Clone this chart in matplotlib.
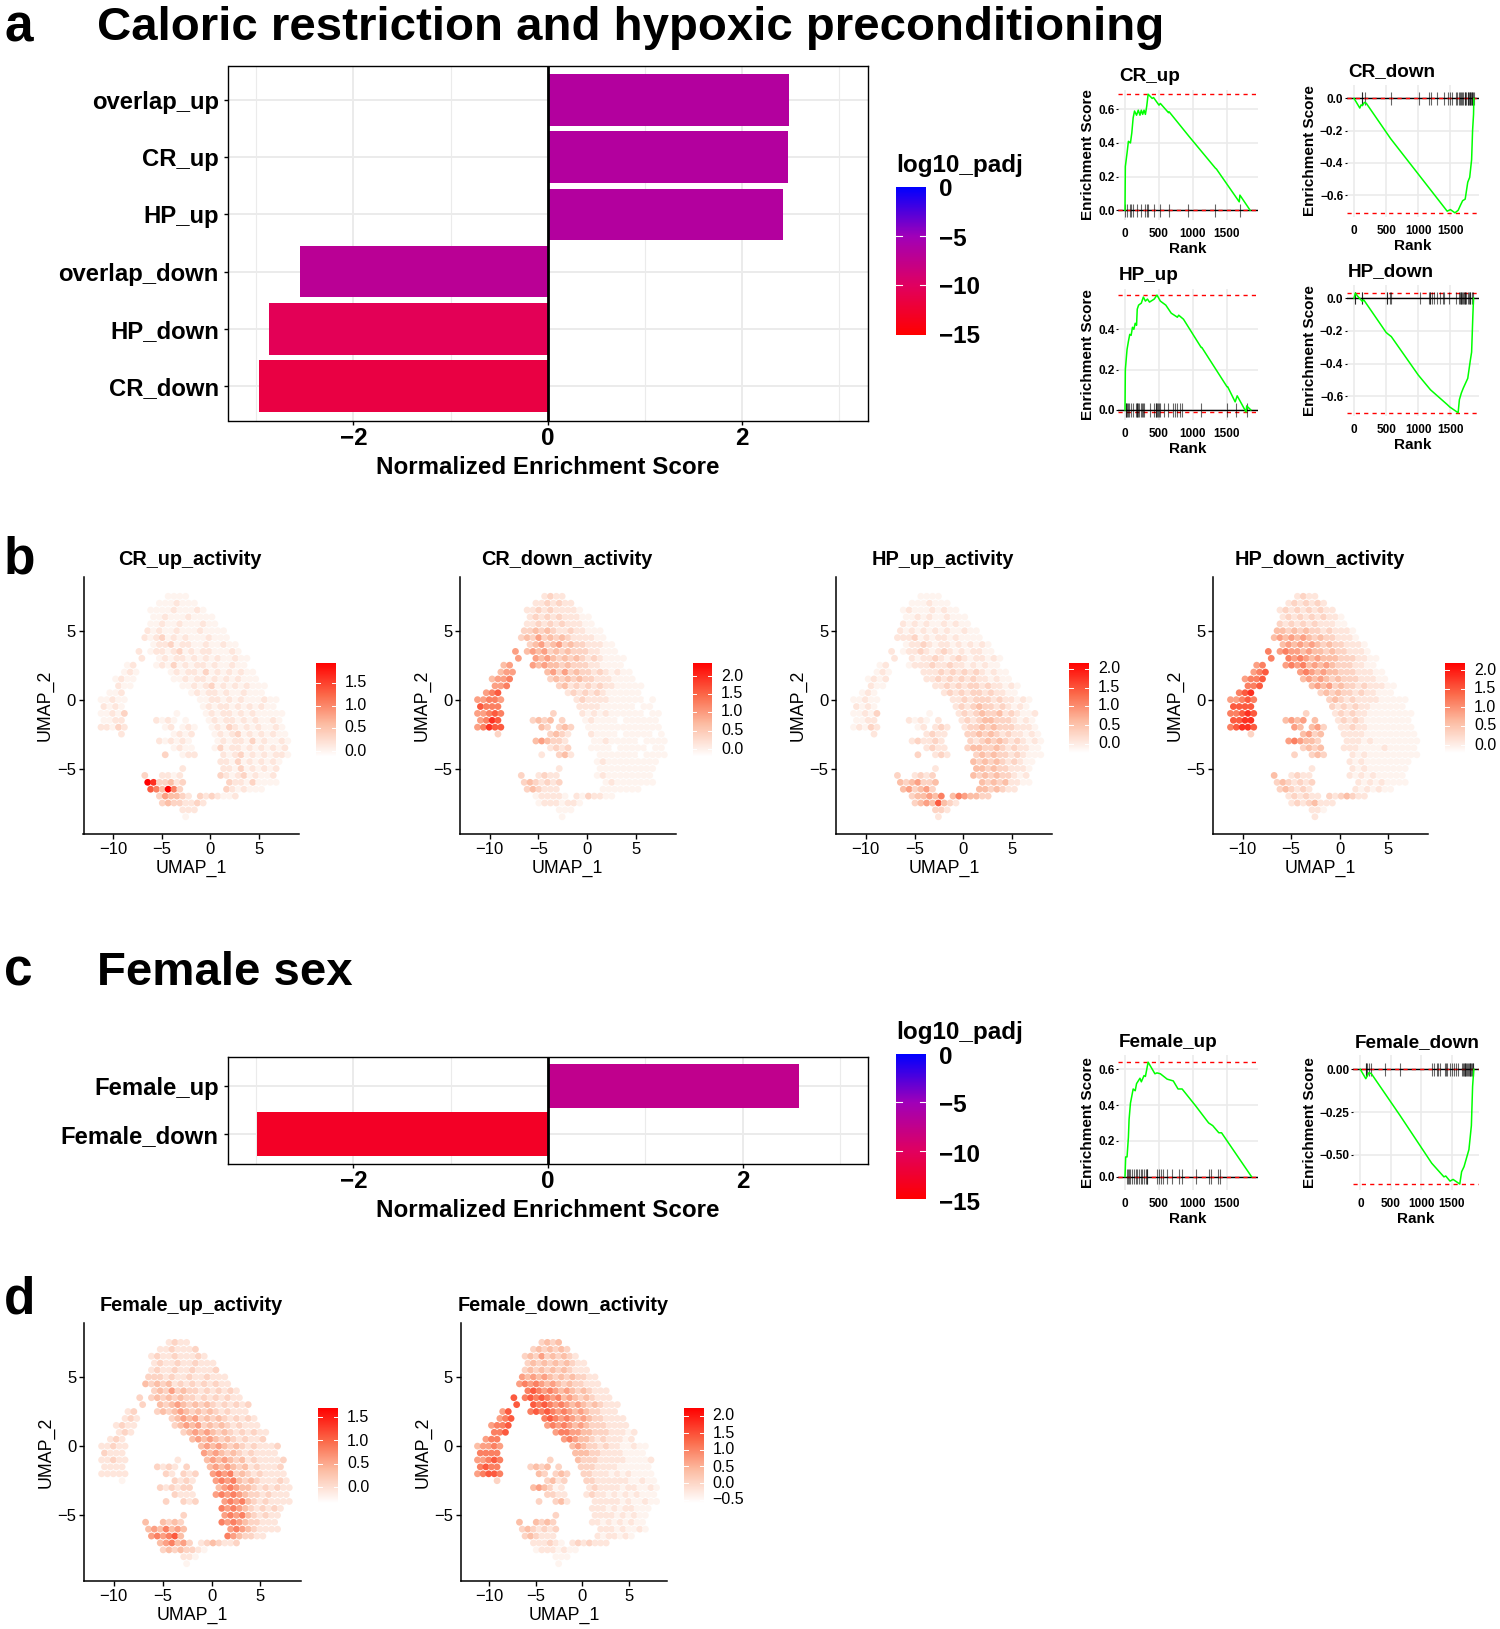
import matplotlib
matplotlib.use("Agg")
import matplotlib.pyplot as plt
from matplotlib.cm import ScalarMappable
from matplotlib.colors import LinearSegmentedColormap, Normalize

plt.rcParams["font.family"] = ["Liberation Sans", "DejaVu Sans"]

W, H = 1500, 1629

# bar panels
CATS_A = ["CR_down", "HP_down", "overlap_down", "HP_up", "CR_up", "overlap_up"]
NES_A = [-2.97, -2.87, -2.55, 2.42, 2.47, 2.48]
PADJ_A = [-11.5, -10.5, -7.0, -6.5, -6.5, -6.5]
CATS_C = ["Female_down", "Female_up"]
NES_C = [-2.99, 2.58]
PADJ_C = [-13.0, -7.5]

# running enrichment curves, rank and score
CR_UP_RANK = [0, 5, 30, 50, 80, 100, 120, 140, 170, 195, 220, 240, 260, 280, 300, 320, 340, 400, 420, 500, 520, 640, 650, 920, 940, 1330, 1345, 1680, 1690, 1840]
CR_UP_ES = [0, .26, .34, .41, .40, .46, .55, .59, .565, .595, .565, .595, .57, .595, .57, .62, .69, .665, .67, .625, .635, .58, .585, .45, .44, .25, .245, .05, .09, 0]
CR_UP_HITS = [0, 35, 70, 93, 118, 176, 230, 289, 324, 338, 421, 510, 647, 926, 1323, 1691]

CR_DOWN_RANK = [0, 90, 110, 130, 160, 190, 570, 1020, 1450, 1500, 1570, 1620, 1660, 1690, 1730, 1770, 1800, 1830, 1845, 1860, 1865]
CR_DOWN_ES = [0, -.06, -.04, -.045, -.025, -.03, -.25, -.48, -.7, -.69, -.71, -.695, -.66, -.635, -.625, -.52, -.49, -.38, -.2, -.1, 0]
CR_DOWN_HITS = [120, 130, 170, 570, 1010, 1160, 1200, 1290, 1400, 1470, 1490, 1530, 1580, 1610, 1630, 1650, 1670, 1680, 1700, 1720, 1730, 1750, 1770, 1780, 1790, 1800, 1810, 1820, 1830, 1840, 1850, 1860]

HP_UP_RANK = [0, 5, 30, 50, 70, 90, 110, 130, 150, 170, 180, 200, 240, 270, 300, 330, 360, 430, 470, 520, 600, 680, 770, 790, 860, 1120, 1130, 1500, 1510, 1620, 1650, 1780, 1790, 1850]
HP_UP_ES = [0, .2, .3, .34, .375, .37, .41, .40, .43, .42, .5, .52, .53, .56, .54, .55, .535, .55, .57, .54, .52, .48, .46, .47, .45, .31, .31, .115, .115, .04, .07, -.01, .02, 0]
HP_UP_HITS = [10, 20, 30, 50, 60, 90, 120, 160, 170, 180, 190, 200, 230, 250, 270, 280, 370, 430, 450, 460, 470, 480, 500, 520, 570, 630, 700, 730, 770, 810, 840, 1120, 1500, 1630, 1790]

HP_DOWN_RANK = [0, 20, 60, 130, 150, 500, 530, 580, 1000, 1190, 1450, 1490, 1620, 1640, 1670, 1700, 1770, 1810, 1830, 1850, 1860]
HP_DOWN_ES = [0, .03, .01, -.02, -.01, -.21, -.22, -.235, -.47, -.56, -.65, -.665, -.70, -.62, -.58, -.55, -.49, -.38, -.33, -.1, 0]
HP_DOWN_HITS = [10, 20, 120, 130, 510, 520, 560, 580, 1030, 1170, 1180, 1190, 1220, 1250, 1290, 1340, 1380, 1400, 1480, 1590, 1630, 1650, 1660, 1670, 1680, 1700, 1710, 1720, 1730, 1750, 1770, 1790, 1800, 1810, 1830, 1850]

F_UP_RANK = [0, 10, 30, 50, 60, 80, 100, 120, 150, 170, 220, 240, 280, 300, 340, 440, 470, 520, 620, 710, 780, 840, 1040, 1230, 1290, 1380, 1420, 1860]
F_UP_ES = [0, .11, .11, .22, .32, .41, .45, .49, .48, .52, .55, .53, .565, .56, .64, .575, .58, .575, .545, .535, .49, .49, .395, .3, .285, .245, .245, 0]
F_UP_HITS = [30, 50, 60, 70, 110, 130, 160, 170, 200, 230, 250, 280, 310, 320, 330, 470, 500, 530, 560, 620, 690, 790, 840, 1040, 1240, 1270, 1370, 1400]

F_DOWN_RANK = [0, 90, 140, 180, 420, 650, 1170, 1370, 1400, 1470, 1520, 1630, 1660, 1700, 1780, 1820, 1840, 1860]
F_DOWN_ES = [0, -.055, -.02, -.025, -.15, -.27, -.55, -.63, -.625, -.655, -.645, -.672, -.6, -.57, -.47, -.33, -.1, 0]
F_DOWN_HITS = [90, 100, 110, 140, 170, 400, 650, 1170, 1200, 1260, 1270, 1310, 1390, 1400, 1420, 1470, 1500, 1530, 1560, 1600, 1670, 1680, 1700, 1710, 1720, 1730, 1750, 1760, 1780, 1790, 1800, 1820, 1830, 1840, 1850]

# UMAP activity read as a coarse raster: rows from y=7.5 down, columns from x=-11.55, level 0-9
CR_UP_ACT = [
"............1111",
"..........1112111",
".........1111211121",
".........11211121111",
".........112112111211",
"........21211211121111",
"........212312121112111",
".........122312211211211",
".......2.1221231212211121",
".......2..1212212121211211",
".....12...1213121221211211",
"....121.....121221312121211",
"...1211......112122121212111",
"...211........112123121212111",
"..112...........1212212112111",
"11211............11221212111211",
".2121.............1212212121211",
"11213........1....12122121211111",
".1122.....2121.1...1212212121121",
"22132......12.121..1213212121121",
"....2........1212...1212312121211",
"..........212121....1212213121121",
".............1211...1312212121212",
"...........3..122....212312121221",
".....................22131212121",
"..............2......2213121212",
"........3..2212......3212312112",
"........9833423.......322131111",
".........764963.......3212111",
"..........354432.3232112",
"...........34332232",
"..............222",
"...............1",
]
CR_DOWN_ACT = [
"............2322",
"..........2232322",
".........2232322221",
".........23232322211",
".........223232322211",
"........33434322322111",
"........343534343222211",
".........345345343322211",
".......5.4545343433322111",
".......5..5454343432321111",
".....45...5454434333221111",
"....455.....453534332321211",
"...4556......343434332221111",
"...556........342323232211111",
"..567...........2323232111111",
"55665............23222211111101",
".7666.............2222111111011",
"55676........3....21212111111011",
".5687.....3434.3...1211110111111",
"56877......43.343..1111111111111",
"....3........3432...2111101111101",
"..........454332....1121111101111",
".............2323...1111011111011",
"...........2..342....111111101111",
".....................12111111111",
"..............2......1111111111",
"........3..2322......1211111111",
"........3432323.......121111111",
".........343222.......1111111",
"..........122221.2132211",
"...........12221221",
"..............111",
"...............1",
]
HP_UP_ACT = [
"............1111",
"..........1112111",
".........1211121211",
".........11212112111",
".........212121121211",
"........21212121211211",
"........222312122121111",
".........122321221212121",
".......2.1223212321212211",
".......2..2122321232122121",
".....12...1222322322121211",
"....121.....222323232321211",
"...1212......223232323221211",
"...211........223232332322121",
"..121...........2323233232211",
"11211............22323332322121",
".2121.............2323433232121",
"11213........1....23234334232112",
".1122.....2121.2...2323443332121",
"12132......12.232..2334343332221",
"....2........2322...3343432322121",
"..........232232....3234343232121",
".............2322...3443343232211",
"...........3..232....343433232111",
".....................43434323211",
"..............2......4434332221",
"........3..2323......4343433212",
"........4345334.......434342211",
".........453453.......4434322",
"..........344546.4654433",
"...........34547432",
"..............332",
"...............2",
]
HP_DOWN_ACT = [
"............2322",
"..........2323232",
".........2323232322",
".........23232323221",
".........323232322211",
"........44343433232221",
"........454545434332221",
".........454545434332221",
".......6.5655454434332221",
".......6..6565454443332211",
".....56...5656454543332211",
"....567.....565454433322211",
"...5667......454543433322211",
"...667........454534332322211",
"..678...........3434332322111",
"55676............34323222211111",
".7777.............3232322111111",
"66787........3....23232211111111",
".7788.....4545.4...2323211111111",
"67887......54.453..2232211111111",
"....3........4534...2222111111111",
"..........565443....2221211111111",
".............3434...2221111211111",
"...........3..343....212111111111",
".....................21211111111",
"..............2......2121111111",
"........4..2322......2121211111",
"........3432323.......212121111",
".........343232.......2121211",
"..........232322.3234322",
"...........23234222",
"..............221",
"...............2",
]
F_UP_ACT = [
"............2322",
"..........2232223",
".........2322322232",
".........23223223222",
".........232232232223",
"........33323223223222",
"........434342323232322",
".........343534332323232",
".......3.3434343323232322",
".......3..4345434343232323",
".....23...3434543434323222",
"....232.....345453434323232",
"...2322......345453434323222",
"...232........345454343232322",
"..232...........4545434323223",
"22322............45454343232223",
".3222.............5454343232222",
"22322........2....45454342322223",
".2222.....3232.3...4545434232223",
"22222......32.323..5656343232222",
"....1........3232...5656434322232",
"..........323233....4565443232322",
".............3222...5656543323222",
"...........3..323....565643232222",
".....................65654323232",
"..............3......5656432322",
"........4..4343......6565433222",
"........4546454.......565432222",
".........565674.......6543322",
"..........456453.2343223",
"...........34343321",
"..............221",
"...............1",
]
F_DOWN_ACT = [
"............3434",
"..........3434343",
".........3435343432",
".........34343434322",
".........343434343222",
"........54545434343322",
"........565654543433222",
".........676565454343222",
".......7.6767656454343222",
".......7..7676565454343222",
".....57...6767656545433222",
"....567.....676565454332222",
"...5667......565654543332222",
"...667........566554433322212",
"..566...........5654432322212",
"45565............45433232211211",
".6666.............4443322221111",
"55676........3....43332222211112",
".6766.....3434.3...3332222111111",
"56776......43.343..3322212121111",
"....3........3423...3322222211211",
"..........454312....2322221221121",
".............3322...2322121212111",
"...........3..342....222221211211",
".....................22212122111",
"..............3......2222121211",
"........4..4343......2212121211",
"........3432323.......222121121",
".........343222.......2122121",
"..........222321.2323222",
"...........12221211",
"..............111",
"...............1",
]
# share of the colour scale that each raster level stands for
LEVEL_SHARE = [0.0, 0.06, 0.13, 0.22, 0.33, 0.45, 0.57, 0.70, 0.84, 1.0]

PADJ_CMAP = LinearSegmentedColormap.from_list(
    "padj", [(0, "#ff0000"), (1 / 3, "#e00060"), (2 / 3, "#a000b8"), (1, "#0000ff")]
)
ACT_CMAP = LinearSegmentedColormap.from_list(
    "act", [(0, "#ffffff"), (0.35, "#fcbba1"), (0.65, "#fb6a4a"), (1, "#ff0000")]
)
GRID = "#ebebeb"

fig = plt.figure(figsize=(W / 100, H / 100), dpi=100, facecolor="white")


def ax_px(left, top, right, bottom):
    return fig.add_axes([left / W, 1 - bottom / H, (right - left) / W, (bottom - top) / H])


def text_px(x, y, s, **kwargs):
    fig.text(x / W, 1 - y / H, s, **kwargs)


def plot_bars(box, cats, nes, padj):
    ax = ax_px(*box)
    ypos = list(range(len(cats)))
    ax.barh(ypos, nes, height=0.9, color=PADJ_CMAP(Normalize(-15, 0)(padj)), zorder=2)
    ax.axvline(0, color="black", lw=2, zorder=3)
    ax.set_xlim(-3.285, 3.29)
    ax.set_ylim(-0.6, len(cats) - 0.4)
    ax.set_yticks(ypos, cats)
    ax.set_xticks([-2, 0, 2])
    ax.set_xticks([-3, -1, 1, 3], minor=True)
    ax.grid(True, which="major", color=GRID, lw=1.4, zorder=0)
    ax.grid(True, which="minor", axis="x", color=GRID, lw=0.8, zorder=0)
    ax.set_axisbelow(True)
    ax.tick_params(axis="x", which="major", labelsize=17.5, length=3, width=1, pad=2)
    ax.tick_params(axis="y", which="major", labelsize=17.2, length=3, width=1, pad=4)
    ax.tick_params(axis="x", which="minor", length=0)
    for lab in ax.get_xticklabels() + ax.get_yticklabels():
        lab.set_fontweight("bold")
    ax.set_xlabel("Normalized Enrichment Score", fontsize=17.4, fontweight="bold", labelpad=4)
    for sp in ax.spines.values():
        sp.set_linewidth(1)


def padj_legend(left, top, right, bottom, title_y, labels_y):
    cax = ax_px(left, top, right, bottom)
    cb = fig.colorbar(ScalarMappable(Normalize(-15, 0), PADJ_CMAP), cax=cax)
    cb.outline.set_visible(False)
    cb.set_ticks([])
    cb.minorticks_off()
    for val in [-5, -10]:
        cax.plot([0, 0.2], [val, val], color="white", lw=0.8, transform=cax.get_yaxis_transform())
        cax.plot([0.8, 1], [val, val], color="white", lw=0.8, transform=cax.get_yaxis_transform())
    text_px(left + 1, title_y, "log10_padj", fontsize=17.5, fontweight="bold", va="baseline")
    for lab, y in zip(["0", "\u22125", "\u221210", "\u221215"], labels_y):
        text_px(right + 13, y, lab, fontsize=17.5, fontweight="bold", va="center")


def plot_gsea(box, title, title_xy, rank, es, hits, xlim, ylim, yticks, ylabels, hit_h):
    ax = ax_px(*box)
    ax.set_xlim(*xlim)
    ax.set_ylim(*ylim)
    ax.plot(xlim, [0, 0], color="black", lw=1, zorder=3)
    ax.axhline(max(es), color="red", ls=(0, (3, 3)), lw=1, zorder=3)
    ax.axhline(min(es), color="red", ls=(0, (3, 3)), lw=1, zorder=3)
    ax.vlines(hits, -hit_h, hit_h, color="black", lw=0.8, alpha=0.6, zorder=3)
    ax.plot(rank, es, color="#00ff00", lw=1.1, zorder=4)
    ax.set_xticks([0, 500, 1000, 1500], ["0", "500", "1000", "1500"])
    ax.set_yticks(yticks, ylabels)
    ax.grid(True, color=GRID, lw=1.2)
    ax.set_axisbelow(True)
    ax.tick_params(axis="x", length=0, labelsize=8.5, pad=5.5)
    ax.tick_params(axis="y", length=1.5, width=0.8, labelsize=8.5, pad=1)
    for lab in ax.get_xticklabels() + ax.get_yticklabels():
        lab.set_fontweight("bold")
    ax.set_xlabel("Rank", fontsize=11, fontweight="bold", labelpad=1.5)
    ax.set_ylabel("Enrichment Score", fontsize=11, fontweight="bold", labelpad=2)
    for sp in ax.spines.values():
        sp.set_visible(False)
    text_px(title_xy[0], title_xy[1], title, fontsize=13.6, fontweight="bold", va="baseline")


def plot_umap(box, title, raster, vmin, vmax, cbar_box, labels, labels_y):
    ax = ax_px(*box)
    xs, ys, vals = [], [], []
    for i, row in enumerate(raster):
        for c, ch in enumerate(row):
            if ch == ".":
                continue
            xs.append(-11.55 + 0.6 * c + (0.3 if i % 2 else 0))
            ys.append(7.5 - 0.5 * i)
            vals.append(vmin + LEVEL_SHARE[int(ch)] * (vmax - vmin))
    ax.scatter(xs, ys, c=vals, s=24, cmap=ACT_CMAP, vmin=vmin, vmax=vmax, linewidths=0)
    ax.set_xlim(-13.05, 9.1)
    ax.set_ylim(-9.75, 8.9)
    ax.set_xticks([-10, -5, 0, 5])
    ax.set_yticks([-5, 0, 5])
    ax.tick_params(labelsize=12, length=3.5, width=1, pad=2)
    ax.set_xlabel("UMAP_1", fontsize=12.8, labelpad=2)
    ax.set_ylabel("UMAP_2", fontsize=12.8, labelpad=2)
    ax.spines["top"].set_visible(False)
    ax.spines["right"].set_visible(False)
    ax.spines["left"].set_linewidth(1.1)
    ax.spines["bottom"].set_linewidth(1.1)
    text_px((box[0] + box[2]) / 2 - 1, box[1] - 12, title, fontsize=14.3, fontweight="bold", ha="center", va="baseline")

    cax = ax_px(*cbar_box)
    cb = fig.colorbar(ScalarMappable(Normalize(vmin, vmax), ACT_CMAP), cax=cax)
    cb.outline.set_visible(False)
    cb.set_ticks([])
    cb.minorticks_off()
    for lab, y in zip(labels, labels_y):
        val = float(lab.replace("\u2212", "-"))
        cax.plot([0, 0.2], [val, val], color="white", lw=0.7, transform=cax.get_yaxis_transform())
        cax.plot([0.8, 1], [val, val], color="white", lw=0.7, transform=cax.get_yaxis_transform())
        text_px(cbar_box[2] + 9, y, lab, fontsize=11.5, va="center")


# panel letters and headings
for letter, y in [("a", 41.5), ("b", 573), ("c", 985), ("d", 1314)]:
    text_px(4, y, letter, fontsize=37, fontweight="bold", va="baseline")
text_px(97, 39.5, "Caloric restriction and hypoxic preconditioning", fontsize=34.1, fontweight="bold", va="baseline")
text_px(97, 985, "Female sex", fontsize=34.1, fontweight="bold", va="baseline")

plot_bars((228.5, 65.5, 867.5, 420.5), CATS_A, NES_A, PADJ_A)
padj_legend(895.5, 187, 925.5, 334.5, 172, [190, 239, 288, 336.5])
plot_bars((228.5, 1056.5, 868, 1163.5), CATS_C, NES_C, PADJ_C)
padj_legend(895.5, 1054, 925.5, 1199, 1039, [1057, 1106, 1155, 1203])

plot_gsea((1118, 90, 1258, 220), "CR_up", (1119, 81), CR_UP_RANK, CR_UP_ES, CR_UP_HITS,
          (-103, 1956), (-0.058, 0.715), [0, .2, .4, .6], ["0.0", "0.2", "0.4", "0.6"], 0.04)
plot_gsea((1346.7, 85, 1479, 217), "CR_down", (1348, 76.5), CR_DOWN_RANK, CR_DOWN_ES, CR_DOWN_HITS,
          (-114, 1945), (-0.736, 0.083), [0, -.2, -.4, -.6], ["0.0", "\u22120.2", "\u22120.4", "\u22120.6"], 0.04)
plot_gsea((1118, 289, 1258, 420), "HP_up", (1119, 280.5), HP_UP_RANK, HP_UP_ES, HP_UP_HITS,
          (-103, 1956), (-0.05, 0.6), [0, .2, .4], ["0.0", "0.2", "0.4"], 0.035)
plot_gsea((1346.7, 285, 1479, 416), "HP_down", (1348, 276.5), HP_DOWN_RANK, HP_DOWN_ES, HP_DOWN_HITS,
          (-114, 1945), (-0.72, 0.08), [0, -.2, -.4, -.6], ["0.0", "\u22120.2", "\u22120.4", "\u22120.6"], 0.035)
plot_gsea((1118, 1055, 1258, 1190), "Female_up", (1119, 1047), F_UP_RANK, F_UP_ES, F_UP_HITS,
          (-103, 1956), (-0.075, 0.68), [0, .2, .4, .6], ["0.0", "0.2", "0.4", "0.6"], 0.04)
plot_gsea((1353, 1055, 1479, 1190), "Female_down", (1355, 1047), F_DOWN_RANK, F_DOWN_ES, F_DOWN_HITS,
          (-120, 1945), (-0.707, 0.084), [0, -.25, -.5], ["0.00", "\u22120.25", "\u22120.50"], 0.04)

plot_umap((83.5, 577, 299, 834), "CR_up_activity", CR_UP_ACT, -0.13, 1.96, (316, 662.5, 335.5, 756.5),
          ["1.5", "1.0", "0.5", "0.0"], [683, 705.7, 728, 751])
plot_umap((460, 577, 675.5, 834), "CR_down_activity", CR_DOWN_ACT, -0.21, 2.37, (692.5, 662.5, 712, 756.5),
          ["2.0", "1.5", "1.0", "0.5", "0.0"], [676, 694, 712, 730.5, 749])
plot_umap((836, 577, 1052, 834), "HP_up_activity", HP_UP_ACT, -0.25, 2.17, (1069, 662.5, 1089, 753),
          ["2.0", "1.5", "1.0", "0.5", "0.0"], [669, 687.5, 706, 725, 744])
plot_umap((1213, 577, 1428, 834), "HP_down_activity", HP_DOWN_ACT, -0.22, 2.2, (1445, 662.5, 1465, 753),
          ["2.0", "1.5", "1.0", "0.5", "0.0"], [671, 689, 707.5, 726, 745])
plot_umap((84, 1323, 300.5, 1581), "Female_up_activity", F_UP_ACT, -0.34, 1.69, (318, 1408, 338, 1503),
          ["1.5", "1.0", "0.5", "0.0"], [1417, 1441, 1464, 1487])
plot_umap((460.7, 1323, 667.3, 1581), "Female_down_activity", F_DOWN_ACT, -0.59, 2.24, (684, 1408, 703.7, 1503),
          ["2.0", "1.5", "1.0", "0.5", "0.0", "\u22120.5"], [1416, 1433, 1450, 1467, 1483, 1500])

fig.savefig("out.png", dpi=100)
